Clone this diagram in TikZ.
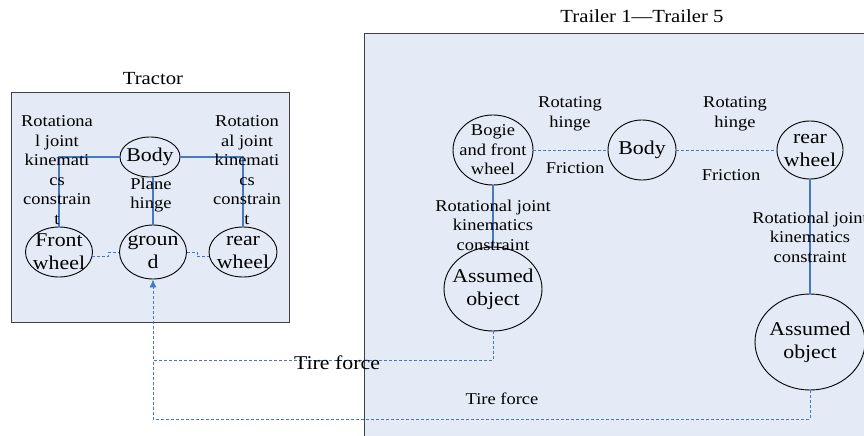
\documentclass[tikz,border=0pt]{standalone}
\usepackage{fontspec}
\setmainfont[FakeStretch=1.12]{Liberation Serif}
\usepackage{tikz}
\usetikzlibrary{shapes,arrows.meta,positioning}
\definecolor{paneblue}{RGB}{228,235,246}
\definecolor{linkblue}{RGB}{70,120,196}
\definecolor{paneedge}{RGB}{64,64,64}
\newcommand{\labelsize}{\fontsize{16.5}{19.5}\selectfont}
\newcommand{\partsize}{\fontsize{19.5}{23}\selectfont}
\newcommand{\titlesize}{\fontsize{18.5}{21}\selectfont}
\tikzstyle{part} = [ellipse, draw, fill=paneblue, inner sep=0pt, line width=0.9pt]
\tikzstyle{inside} = [align=center, inner sep=0pt, font=\partsize]
\tikzstyle{note} = [align=center, inner sep=0pt, font=\labelsize]
\tikzstyle{pane} = [draw=paneedge, fill=paneblue, line width=1pt]
\tikzstyle{joint} = [draw=linkblue, line width=1.2pt]
\tikzstyle{force} = [draw=linkblue, line width=0.8pt, dash pattern=on 3pt off 2pt]

\begin{document}
\begin{tikzpicture}[x=1pt, y=-1pt]
			\useasboundingbox (0,0) rectangle (864,436);
			% panes
			\path [pane] (11,92) rectangle (289,322);
			\fill [paneblue] (364,34) rectangle (864,436);
			\draw [paneedge, line width=1pt] (364,436) |- (864,34);
			\node [note, font=\titlesize] (tractor) at (153,79) {Tractor};
			\node [note, font=\titlesize] (trailers) at (642,16) {Trailer 1—Trailer 5};

			% tractor
			\node [part, minimum width=60pt, minimum height=40pt, label={[inside]center:Body}] (tbody) at (150,157) {};
			\node [part, minimum width=67pt, minimum height=50pt, label={[inside]center:{Front\\wheel}}] (fwheel) at (59,252) {};
			\node [part, minimum width=67pt, minimum height=54pt, label={[inside]center:{groun\\d}}] (ground) at (153,252) {};
			\node [part, minimum width=68pt, minimum height=50pt, label={[inside]center:{rear\\wheel}}] (twheel) at (243,252) {};

			\path [joint] (tbody.west) -| (fwheel.north);
			\path [joint] (tbody.east) -| (twheel.north);
			\path [joint] (ground.north) -- (ground.north |- tbody.south);
			\path [force] (fwheel.-8) -- ++(16,0) |- (ground.west);
			\path [force] (ground.east) -- ++(10,0) |- (twheel.188);

			\node [note] (tjointl) at (57,170) {Rotationa\\l joint\\kinemati\\cs\\constrain\\t};
			\node [note] (tjointr) at (247,170) {Rotation\\al joint\\kinemati\\cs\\constrain\\t};
			\node [note] (plane) at (151,195) {Plane\\hinge};

			% trailers
			\node [part, minimum width=80pt, minimum height=70pt, label={[note]center:{Bogie\\and front\\wheel}}] (bogie) at (493,150) {};
			\node [part, minimum width=68pt, minimum height=60pt, label={[inside]center:Body}] (rbody) at (642,150) {};
			\node [part, minimum width=66pt, minimum height=58pt, label={[inside]center:{rear\\wheel}}] (rwheel) at (810,150) {};
			\node [part, minimum width=98pt, minimum height=84pt, label={[inside]center:{Assumed\\object}}] (objecta) at (493,289) {};
			\node [part, minimum width=110pt, minimum height=96pt, label={[inside]center:{Assumed\\object}}] (objectb) at (810,342) {};

			\path [force] (bogie.east) -- (rbody.west);
			\path [force] (rbody.east) -- (rwheel.west);
			\path [joint] (bogie.south) -- (objecta.north);
			\path [joint] (rwheel.south) -- (objectb.north);

			\node [note] (hingea) at (570,114) {Rotating\\hinge};
			\node [note] (hingeb) at (735,114) {Rotating\\hinge};
			\node [note] (fricta) at (575,168) {Friction};
			\node [note] (frictb) at (731,175) {Friction};
			\node [note] (jointa) at (493,225) {Rotational joint\\kinematics\\constraint};
			\node [note] (jointb) at (810,237) {Rotational joint\\kinematics\\constraint};

			% tire forces
			\coordinate (tirebend) at (153,360);
			\coordinate (tirecorner) at (153,419);
			\path [force] (objectb.south) |- (tirecorner) -- (tirebend);
			\path [force, -{Latex[length=8pt,width=7pt]}] (objecta.south) |- (tirebend) -- (ground.south);
			\node [inside] (tirea) at (337,363) {Tire force};
			\node [note] (tireb) at (502,399) {Tire force};
		\end{tikzpicture}
\end{document}
